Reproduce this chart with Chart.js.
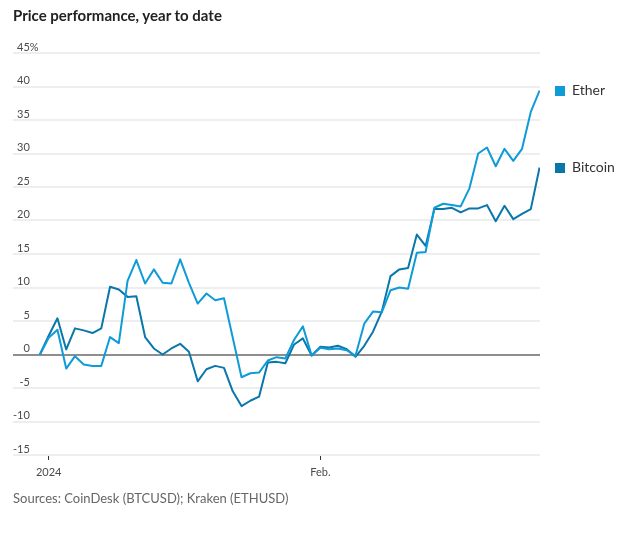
<!DOCTYPE html>
<html><head><meta charset="utf-8">
<script src="https://cdn.jsdelivr.net/npm/chart.js@4"></script>
<style>
html,body{margin:0;padding:0;background:#fff;}
#wrap{position:relative;width:644px;height:534px;overflow:hidden;}
#title{position:absolute;left:13px;top:6px;font:bold 15px Lato, sans-serif;color:#222;white-space:nowrap;}
#source{position:absolute;left:13px;top:490px;font:13px Lato, sans-serif;color:#666;white-space:nowrap;}
canvas{position:absolute;left:0;top:0;}
</style></head><body>
<div id="wrap"><canvas id="c" width="644" height="534"></canvas>
<div id="title">Price performance, year to date</div>
<div id="source">Sources: CoinDesk (BTCUSD); Kraken (ETHUSD)</div></div>
<script>
const dates = [
 '2023-12-31',
 '2024-01-01','2024-01-02','2024-01-03','2024-01-04','2024-01-05','2024-01-06','2024-01-07','2024-01-08','2024-01-09','2024-01-10',
 '2024-01-11','2024-01-12','2024-01-13','2024-01-14','2024-01-15','2024-01-16','2024-01-17','2024-01-18','2024-01-19','2024-01-20',
 '2024-01-21','2024-01-22','2024-01-23','2024-01-24','2024-01-25','2024-01-26','2024-01-27','2024-01-28','2024-01-29','2024-01-30','2024-01-31',
 '2024-02-01','2024-02-02','2024-02-03','2024-02-04','2024-02-05','2024-02-06','2024-02-07','2024-02-08','2024-02-09','2024-02-10',
 '2024-02-11','2024-02-12','2024-02-13','2024-02-14','2024-02-15','2024-02-16','2024-02-17','2024-02-18','2024-02-19','2024-02-20',
 '2024-02-21','2024-02-22','2024-02-23','2024-02-24','2024-02-25','2024-02-26'
];
const ether = [
 0, 2.5, 3.7, -2.1, -0.25, -1.5, -1.7, -1.7, 2.6, 1.7,
 11.0, 14.1, 10.6, 12.7, 10.7, 10.6, 14.2, 10.7, 7.6, 9.1,
 8.1, 8.4, 2.5, -3.4, -2.8, -2.7, -0.9, -0.4, -0.6, 2.2,
 4.2, -0.15, 1.0, 0.8, 0.9, 0.65, -0.2, 4.6, 6.4, 6.3,
 9.6, 10.0, 9.8, 15.2, 15.3, 21.9, 22.5, 22.3, 22.1, 24.8,
 30.0, 30.9, 28.1, 30.7, 28.9, 30.7, 36.2, 39.4
];
const bitcoin = [
 0, 2.8, 5.4, 0.75, 3.9, 3.6, 3.2, 3.9, 10.1, 9.7,
 8.6, 8.7, 2.6, 0.9, 0, 0.9, 1.6, 0.4, -4.0, -2.2,
 -1.7, -2.0, -5.5, -7.7, -6.9, -6.3, -1.2, -1.1, -1.3, 1.5,
 2.4, -0.15, 1.15, 1.05, 1.3, 0.8, -0.35, 1.3, 3.4, 6.4,
 11.7, 12.7, 12.9, 17.9, 16.2, 21.7, 21.7, 21.9, 21.2, 21.8,
 21.8, 22.3, 19.9, 22.2, 20.2, 21.0, 21.7, 27.9
];
const seriesNames = ['Ether', 'Bitcoin'];
const seriesColors = ['#0e9bd8', '#0a77aa'];
const xTickDates = ['2024-01-01', '2024-02-01'];
const xTickLabels = ['2024', 'Feb.'];
const yMin = -15, yMax = 45, yStep = 5;

const base = Date.UTC(2023, 11, 31);
const dayIndex = s => { const [y,m,d] = s.split('-').map(Number); return (Date.UTC(y, m-1, d) - base) / 86400000; };
const toPoints = vals => vals.map((v, i) => ({ x: dayIndex(dates[i]), y: v }));
const xTickValues = xTickDates.map(dayIndex);

const endLabels = {
  id: 'endLabels',
  afterDatasetsDraw(chart) {
    const ctx = chart.ctx;
    chart.data.datasets.forEach((ds, i) => {
      const meta = chart.getDatasetMeta(i);
      const pt = meta.data[meta.data.length - 1];
      ctx.save();
      ctx.fillStyle = ds.borderColor;
      ctx.fillRect(555, Math.round(pt.y) - 5, 10, 10);
      ctx.fillStyle = '#333';
      ctx.font = '14px Lato, sans-serif';
      ctx.textBaseline = 'middle';
      ctx.textAlign = 'left';
      ctx.fillText(ds.label, 572, pt.y);
      ctx.restore();
    });
  }
};
const percentSign = {
  id: 'percentSign',
  afterDraw(chart) {
    const sc = chart.scales.y;
    const items = sc._labelItems || sc.getLabelItems();
    items.forEach(it => {
      if (it.label === String(yMax)) {
        const ctx = chart.ctx;
        ctx.save();
        ctx.font = '11px Lato, sans-serif';
        ctx.fillStyle = '#4a4a4a';
        ctx.textAlign = 'left';
        ctx.textBaseline = 'middle';
        ctx.fillText('%', it.options.translation[0], it.options.translation[1]);
        ctx.restore();
      }
    });
  }
};

new Chart(document.getElementById('c'), {
  type: 'line',
  data: {
    datasets: [
      { label: seriesNames[0], data: toPoints(ether), borderColor: seriesColors[0], backgroundColor: seriesColors[0], borderWidth: 2, pointRadius: 0, tension: 0, borderJoinStyle: 'round' },
      { label: seriesNames[1], data: toPoints(bitcoin), borderColor: seriesColors[1], backgroundColor: seriesColors[1], borderWidth: 2, pointRadius: 0, tension: 0, borderJoinStyle: 'round' }
    ]
  },
  options: {
    responsive: false,
    animation: false,
    devicePixelRatio: 1,
    layout: { padding: { left: 13, right: 104, top: 53, bottom: 54 } },
    plugins: { legend: { display: false }, tooltip: { enabled: false }, title: { display: false } },
    scales: {
      x: {
        type: 'linear',
        min: -3.07, max: 57.05,
        afterBuildTicks: s => { s.ticks = xTickValues.map(v => ({ value: v })); },
        afterFit: s => { s.height = 25; },
        grid: { drawOnChartArea: false, drawTicks: true, tickLength: 5, tickColor: '#333', tickWidth: 1 },
        border: { display: false },
        ticks: {
          autoSkip: false, maxRotation: 0, padding: 6,
          font: { family: 'Lato', size: 11 }, color: '#4a4a4a',
          callback: (v, i) => xTickLabels[i]
        }
      },
      y: {
        min: yMin, max: yMax,
        afterFit: s => { s.width = 0; },
        grid: {
          drawTicks: false,
          color: c => c.tick.value === 0 ? '#8e8e8e' : '#eeeeee',
          lineWidth: 2
        },
        border: { display: false },
        ticks: {
          stepSize: yStep, mirror: true, crossAlign: 'far', padding: 0, labelOffset: -6,
          font: { family: 'Lato', size: 11 }, color: '#4a4a4a',
          callback: v => String(v)
        }
      }
    }
  },
  plugins: [endLabels, percentSign]
});
</script>
</body></html>
